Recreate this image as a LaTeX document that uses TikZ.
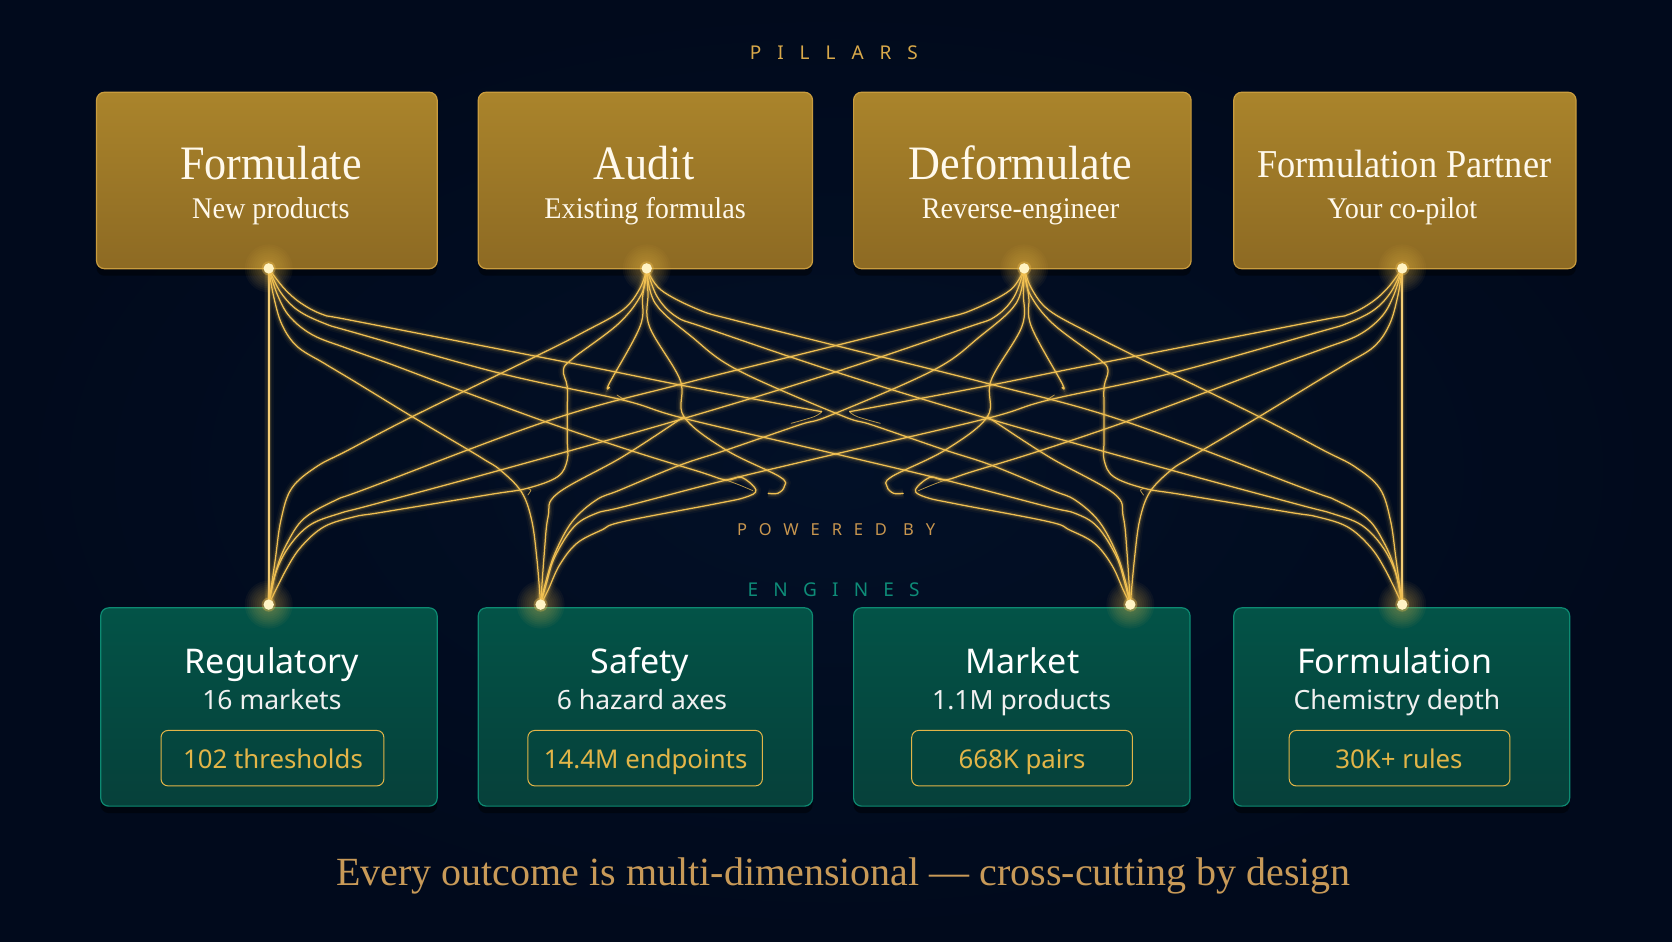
\documentclass[tikz,border=0pt]{standalone}
\usepackage{fontspec}
\usetikzlibrary{shadows}
\setmainfont{Liberation Serif}
\newfontfamily\headfont[FakeStretch=0.92]{Liberation Serif}
\newfontfamily\subfont[FakeStretch=0.94]{Liberation Serif}
\newfontfamily\plexfont{Noto Sans}
\newfontfamily\spacefont[LetterSpace=84]{Noto Sans}
\newfontfamily\spacefontb[LetterSpace=72]{Noto Sans}
\newfontfamily\spacefontc[LetterSpace=80]{Noto Sans}
\definecolor{bgmid}{HTML}{021027}
\definecolor{bgedge}{HTML}{010A1C}
\definecolor{goldtop}{HTML}{AA842B}
\definecolor{goldbot}{HTML}{8D6A23}
\definecolor{goldedge}{HTML}{C99C3E}
\definecolor{tealtop}{HTML}{035347}
\definecolor{tealbot}{HTML}{06403A}
\definecolor{tealedge}{HTML}{0D8A72}
\definecolor{linegold}{HTML}{F0C052}
\definecolor{dotcol}{HTML}{FFF3C4}
\definecolor{chipgold}{HTML}{E2B548}
\definecolor{labgold}{HTML}{D9A94A}
\definecolor{labcopper}{HTML}{C8964F}
\definecolor{labteal}{HTML}{0E8C78}
\definecolor{tagcol}{HTML}{C89A58}
\definecolor{warmwhite}{HTML}{FFF9EC}
\tikzset{
  x=1.0663pt,y=-1.0663pt,
  zl/.style={shift={(225.08,243.83)},x=0.38270pt,y=-0.33333pt},
  zm/.style={shift={(1342.30,243.83)},x=-0.38270pt,y=-0.33333pt},
  strandst/.style={draw=linegold,line width=1.25pt,line join=round,line cap=round,
    preaction={draw=linegold,line width=10pt,draw opacity=.04},
    preaction={draw=linegold,line width=6.5pt,draw opacity=.07},
    preaction={draw=linegold,line width=3.6pt,draw opacity=.16}},
  stubst/.style={draw=linegold,line width=.8pt,line cap=round,draw opacity=.75},
  pillarbox/.style={rounded corners=8pt,draw=goldedge,line width=1.2pt,top color=goldtop,bottom color=goldbot,inner sep=0pt,outer sep=0pt,
    drop shadow={shadow xshift=0pt,shadow yshift=-7pt,fill=black,opacity=.45}},
  enginebox/.style={rounded corners=8pt,draw=tealedge,line width=1.2pt,top color=tealtop,bottom color=tealbot,inner sep=0pt,outer sep=0pt,
    drop shadow={shadow xshift=0pt,shadow yshift=-7pt,fill=black,opacity=.45}},
  chipbox/.style={rounded corners=7pt,draw=chipgold,line width=1pt,inner sep=0pt,outer sep=0pt},
  porthub/.style={circle,inner sep=0pt,minimum size=1pt,outer sep=0pt},
  headtext/.style={anchor=base,text=warmwhite,inner sep=0pt,font=\headfont\fontsize{48}{50}\selectfont},
  subtext/.style={anchor=base,text=warmwhite,inner sep=0pt,font=\subfont\fontsize{30}{32}\selectfont},
  enghead/.style={anchor=base,text=white,inner sep=0pt,font=\plexfont\fontsize{34}{36}\selectfont},
  engsub/.style={anchor=base,text=white!94!black,inner sep=0pt,font=\plexfont\fontsize{26.5}{30}\selectfont},
  chiptext/.style={anchor=base,text=chipgold,inner sep=0pt,font=\plexfont\fontsize{25.8}{30}\selectfont},
}
\newcommand\mybox[6]{\node[#2,minimum width={(#5-#3)*1.0663pt},minimum height={(#6-#4)*1.0663pt}] (#1) at ({(#3+#5)/2},{(#4+#6)/2}) {};}
\newcommand\twin[5]{%
  \begin{scope}[zl]\draw[strandst] plot[smooth,tension=.6] coordinates {#1 #2 #3};\end{scope}
  \begin{scope}[zm]\draw[strandst] plot[smooth,tension=.6] coordinates {#4 #2 #5};\end{scope}}
\newcommand\twinstub[1]{%
  \begin{scope}[zl]\draw[stubst] plot[smooth,tension=.6] coordinates {#1};\end{scope}
  \begin{scope}[zm]\draw[stubst] plot[smooth,tension=.6] coordinates {#1};\end{scope}}
\newcommand\portdot[1]{%
  \foreach \rr in {24,22,...,8}{\fill[linegold,opacity=.045] (#1) circle (\rr pt);}
  \fill[linegold,opacity=.35] (#1) circle (7pt);
  \fill[dotcol] (#1) circle (5.2pt);}
\begin{document}
\begin{tikzpicture}
\useasboundingbox (0,0) rectangle (1568,882.5);
\path[inner color=bgmid,outer color=bgedge] (0,0) rectangle (1568,882.5);

% section labels
\node[anchor=base west,text=labgold,inner sep=0pt,font=\spacefont\fontsize{19}{22}\selectfont] (lblP) at (703,56) {PILLARS};
\node[anchor=base west,text=labcopper,inner sep=0pt,font=\spacefontb\fontsize{16.5}{20}\selectfont] (lblW) at (691,502) {POWERED BY};
\node[anchor=base west,text=labteal,inner sep=0pt,font=\spacefontc\fontsize{19}{22}\selectfont] (lblE) at (701,559) {ENGINES};

% pillars
\mybox{bF}{pillarbox}{90.5}{86.5}{410}{252}
\mybox{bA}{pillarbox}{448.5}{86.5}{762}{252}
\mybox{bD}{pillarbox}{800.5}{86.5}{1117}{252}
\mybox{bP}{pillarbox}{1157}{86.5}{1478}{252}
% engines
\mybox{eR}{enginebox}{94.5}{570}{410}{756}
\mybox{eS}{enginebox}{448.5}{570}{762}{756}
\mybox{eM}{enginebox}{800.5}{570}{1116}{756}
\mybox{eF}{enginebox}{1157}{570}{1472}{756}
% chips
\mybox{cR}{chipbox}{151}{685}{360}{737}
\mybox{cS}{chipbox}{495}{685}{715}{737}
\mybox{cM}{chipbox}{855}{685}{1062}{737}
\mybox{cF}{chipbox}{1209}{685}{1416}{737}

% pillar text
\node[headtext] (tF) at (254,168) {Formulate};
\node[subtext] (sF) at (254,204.5) {New products};
\node[headtext] (tA) at (604,168) {Audit};
\node[subtext] (sA) at (605,204.5) {Existing formulas};
\node[headtext] (tD) at (957,168) {Deformulate};
\node[subtext] (sD) at (957,204.5) {Reverse-engineer};
\node[headtext,font=\headfont\fontsize{39.5}{42}\selectfont] (tP) at (1317,166) {Formulation Partner};
\node[subtext] (sP) at (1315,204.5) {Your co-pilot};

% engine text
\node[enghead] (tR) at (255,632) {Regulatory};
\node[engsub] (sR) at (255,665) {16 markets};
\node[chiptext] (kR) at (256,721) {102 thresholds};
\node[enghead] (tS) at (600,632) {Safety};
\node[engsub] (sS) at (602,665) {6 hazard axes};
\node[chiptext] (kS) at (605.5,721) {14.4M endpoints};
\node[enghead] (tM) at (959,632) {Market};
\node[engsub] (sM) at (958,665) {1.1M products};
\node[chiptext] (kM) at (958.5,721) {668K pairs};
\node[enghead] (tO) at (1308,632) {Formulation};
\node[engsub] (sO) at (1310,665) {Chemistry depth};
\node[chiptext] (kO) at (1312,721) {30K+ rules};

% tagline
\node[anchor=base,text=tagcol,inner sep=0pt,font=\fontsize{40}{44}\selectfont] (tag) at (791,830) {Every outcome is multi-dimensional — cross-cutting by design};

% ports
\node[porthub] (pA) at (252,251.7) {};
\node[porthub] (pB) at (606.5,251.7) {};
\node[porthub] (pC) at (960.5,251.7) {};
\node[porthub] (pD) at (1315,251.7) {};
\node[porthub] (pR) at (252,567) {};
\node[porthub] (pS) at (507,567) {};
\node[porthub] (pM) at (1060,567) {};
\node[porthub] (pT) at (1315,567) {};

% straight outer connectors
\draw[strandst,draw=linegold!80!white,line width=1.6pt] (pA) -- (pR);
\draw[strandst,draw=linegold!80!white,line width=1.6pt] (pD) -- (pT);

% woven connectors (left strand and its mirror twin)
\twin{(pA)}{(88,110) (110,195) (150,260) (220,310) (300,365) (450,470) (590,565) (640,600) (680,630) (735,695) (762,780) (776,900)}{(pS)}{(pD)}{(pM)}
\twin{(pA)}{(98,105) (130,170) (190,225) (280,265) (400,315) (585,395) (810,490) (1030,575) (1200,635) (1270,660) (1310,652) (1348,690) (1320,712) (1240,732) (1000,785) (945,810) (880,850) (835,915) (805,990)}{(pS)}{(pD)}{(pM)}
\twin{(pA)}{(115,85) (160,130) (220,165) (300,183) (890,315) (1150,375) (1440,438) (1520,455)}{}{(pD)}{}
\twin{(pA)}{(105,95) (150,150) (220,190) (300,218) (680,340) (1000,420) (1160,475) (1568,585) (1842,660) (2110,740) (2182,760) (2240,800) (2290,890) (2312,970)}{(pM)}{(pD)}{(pS)}
\twin{(pB)}{(1050,100) (990,190) (870,295) (845,330) (855,380) (855,450) (855,540) (855,600) (830,650) (750,685) (650,704) (370,757) (300,770) (220,800) (160,860) (120,930)}{(pR)}{(pC)}{(pT)}
\twin{(pB)}{(1045,85) (1000,150) (900,215) (780,285) (450,470) (280,572) (200,620) (135,685) (107,780) (92,900)}{(pR)}{(pC)}{(pT)}
\twin{(pB)}{(1052,110) (1045,200) (965,370) (965,382)}{}{(pC)}{}
\twin{(pB)}{(1066,100) (1070,200) (1150,360) (1160,470) (1270,570) (1410,650) (1422,680) (1405,700) (1380,700)}{}{(pC)}{}
\begin{scope}[zl]\draw[strandst] plot[smooth,tension=.6] coordinates {(1160,470) (1000,590) (830,700) (805,770) (795,880) (pS)};\end{scope}
\begin{scope}[zm]\draw[strandst] plot[smooth,tension=.6] coordinates {(1160,470) (1000,590) (830,700) (805,770) (795,880) (pM)};\end{scope}
\twin{(pB)}{(1100,90) (1200,150) (1290,180) (1568,260) (1952,370) (2302,480) (2780,685) (2862,720) (2945,775) (2990,850) (3018,930)}{(pT)}{(pC)}{(pR)}
\twin{(pB)}{(1090,110) (1140,170) (1220,205) (1568,340) (1952,475) (2432,630) (2770,735) (2852,760) (2930,795) (2985,860) (3020,940)}{(pT)}{(pC)}{(pR)}
\twin{(pB)}{(1085,130) (1180,230) (1300,330) (1568,465) (1652,495) (1842,570) (1962,615) (2120,690) (2182,720) (2245,785) (2290,880) (2315,970)}{(pM)}{(pC)}{(pS)}
\twinstub{(1270,660) (1305,675) (1340,692)}
\twinstub{(985,405) (1005,420)}
\twinstub{(1520,455) (1500,470) (1440,490)}
\twinstub{(750,685) (760,690) (752,705)}

% port dots
\portdot{pA}\portdot{pB}\portdot{pC}\portdot{pD}
\portdot{pR}\portdot{pS}\portdot{pM}\portdot{pT}
\end{tikzpicture}
\end{document}
